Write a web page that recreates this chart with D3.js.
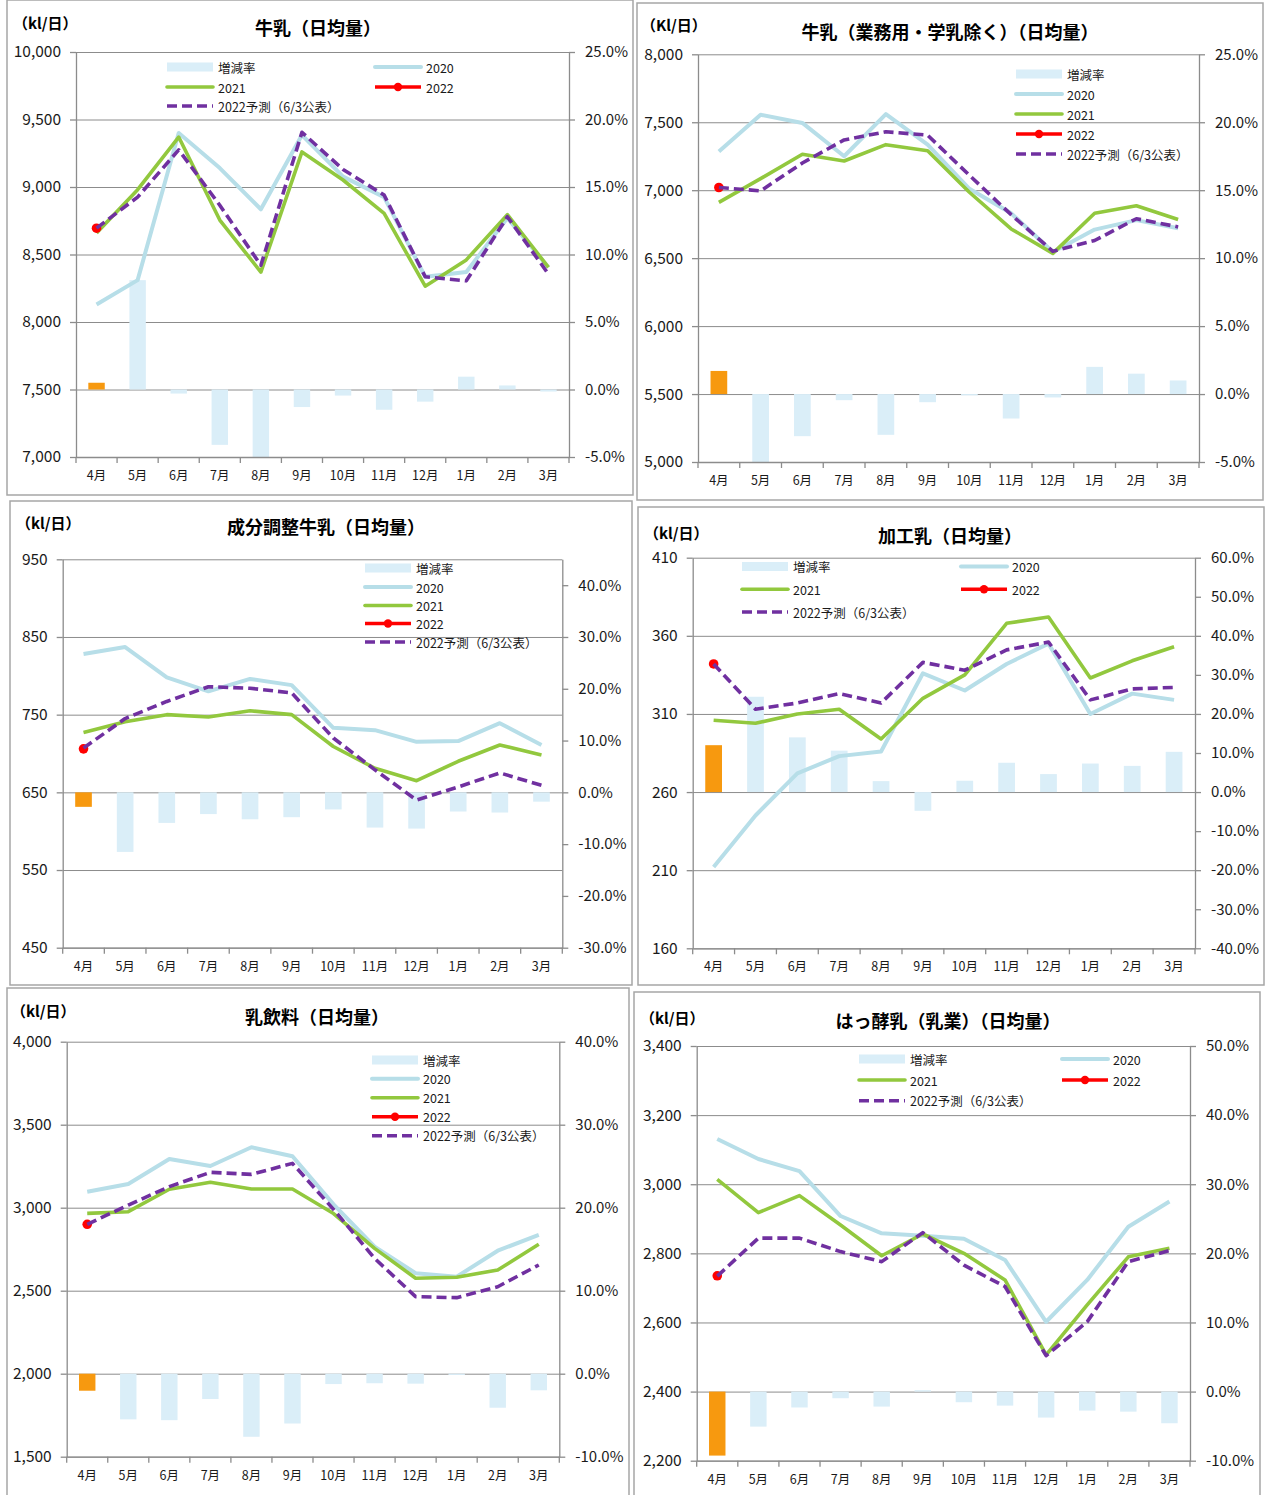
<!DOCTYPE html>
<html><head><meta charset="utf-8">
<script src="https://cdn.jsdelivr.net/npm/d3@7"></script>
<style>
body{margin:0;background:#fff;}
svg{display:block;font-family:"Noto Sans CJK JP","Noto Sans",sans-serif;}
</style></head><body>
<svg id="c" width="1274" height="1495"></svg>
<script>
// ---------- data ----------
const months = ["4月","5月","6月","7月","8月","9月","10月","11月","12月","1月","2月","3月"];
const legendNames = ["増減率","2020","2021","2022","2022予測（6/3公表）"];

// 牛乳（日均量）
const milkRate = [0.5, 8.1, -0.3, -4.1, -5.0, -1.3, -0.45, -1.5, -0.9, 0.95, 0.3, -0.15];
const milk2020 = [8130, 8310, 9400, 9140, 8835, 9385, 9077, 8925, 8335, 8370, 8770, 8405];
const milk2021 = [8660, 8980, 9370, 8755, 8370, 9260, 9052, 8805, 8265, 8460, 8795, 8405];
const milk2022 = [8695, null, null, null, null, null, null, null, null, null, null, null];
const milkPred = [8695, 8925, 9275, 8865, 8420, 9405, 9130, 8940, 8335, 8305, 8780, 8355];

// 牛乳（業務用・学乳除く）（日均量）
const bizRate = [1.7, -5.0, -3.1, -0.45, -3.0, -0.6, -0.1, -1.8, -0.25, 2.0, 1.5, 1.0];
const biz2020 = [7285, 7555, 7495, 7250, 7560, 7335, 7010, 6830, 6545, 6710, 6780, 6720];
const biz2021 = [6910, 7085, 7265, 7215, 7335, 7290, 6985, 6715, 6535, 6830, 6885, 6785];
const biz2022 = [7020, null, null, null, null, null, null, null, null, null, null, null];
const bizPred = [7020, 6995, 7200, 7370, 7430, 7405, 7110, 6820, 6550, 6630, 6790, 6730];

// 成分調整牛乳（日均量）
const adjRate = [-2.8, -11.5, -5.9, -4.2, -5.2, -4.8, -3.3, -6.8, -7.0, -3.7, -3.9, -1.8];
const adj2020 = [828, 837, 798, 780, 796, 788, 733, 730, 715, 716, 739, 711];
const adj2021 = [727, 741, 750, 747, 755, 750, 709, 681, 665, 690, 711, 698];
const adj2022 = [706, null, null, null, null, null, null, null, null, null, null, null];
const adjPred = [707, 745, 767, 786, 784, 778, 720, 679, 640, 657, 675, 659];

// 加工乳（日均量）
const procRate = [12.0, 24.4, 14.0, 10.6, 2.8, -4.8, 2.9, 7.5, 4.6, 7.3, 6.7, 10.3];
const proc2020 = [212, 245, 272, 283, 286, 336, 325, 342, 355, 310, 323, 319];
const proc2021 = [306, 304, 310, 313, 294, 320, 335, 368, 372, 333, 344, 353];
const proc2022 = [342, null, null, null, null, null, null, null, null, null, null, null];
const procPred = [342, 313, 317, 323, 317, 343, 338, 351, 356, 319, 326, 327];

// 乳飲料（日均量）
const drinkRate = [-2.05, -5.5, -5.6, -3.05, -7.6, -6.0, -1.25, -1.15, -1.2, -0.15, -4.1, -2.0];
const drink2020 = [3096, 3143, 3293, 3251, 3364, 3310, 3020, 2765, 2605, 2584, 2741, 2836];
const drink2021 = [2966, 2976, 3111, 3153, 3113, 3113, 2965, 2755, 2575, 2581, 2625, 2780];
const drink2022 = [2900, null, null, null, null, null, null, null, null, null, null, null];
const drinkPred = [2900, 3016, 3127, 3213, 3201, 3267, 2990, 2695, 2464, 2458, 2524, 2655];

// はっ酵乳（乳業）（日均量）
const ferRate = [-9.26, -5.07, -2.3, -0.96, -2.17, 0.2, -1.54, -2.03, -3.76, -2.75, -2.9, -4.58];
const fer2020 = [3131, 3073, 3038, 2908, 2858, 2851, 2842, 2781, 2602, 2723, 2877, 2950];
const fer2021 = [3014, 2918, 2967, 2882, 2793, 2856, 2800, 2723, 2506, 2651, 2790, 2815];
const fer2022 = [2735, null, null, null, null, null, null, null, null, null, null, null];
const ferPred = [2734, 2844, 2844, 2805, 2776, 2860, 2766, 2704, 2504, 2602, 2776, 2808];

// ---------- styles ----------
const C = {bar:"#DAEEF8", barNow:"#F7990F", s2020:"#B7DEE8", s2021:"#92C83E", s2022:"#FF0000", pred:"#7030A0",
           grid:"#8c8c8c", text:"#1a1a1a", border:"#a6a6a6"};

const svg = d3.select("#c");
svg.append("rect").attr("width",1274).attr("height",1495).attr("fill","#fff");

const panels = [
  {title:"牛乳（日均量）", unit:"（kl/日）", box:[7,0,633,495], plot:[76,569,52,457], titlePos:[318,27], unitPos:[13,22],
   left:[7000,10000], leftTicks:d3.range(7000,10001,500), right:[-5,25], rightTicks:d3.range(-5,25.1,5),
   rate:milkRate, a:milk2020, b:milk2021, c:milk2022, p:milkPred,
   legend:[[0,167,67],[2,167,87],[4,167,106],[1,375,67],[3,375,87]]},
  {title:"牛乳（業務用・学乳除く）（日均量）", unit:"（Kl/日）", box:[637,3,1263,500], plot:[698,1199,54.3,462], titlePos:[950,31], unitPos:[641,24],
   left:[5000,8000], leftTicks:d3.range(5000,8001,500), right:[-5,25], rightTicks:d3.range(-5,25.1,5),
   rate:bizRate, a:biz2020, b:biz2021, c:biz2022, p:bizPred,
   legend:[[0,1016,74],[1,1016,94],[2,1016,114],[3,1016,134],[4,1016,154]]},
  {title:"成分調整牛乳（日均量）", unit:"（kl/日）", box:[10,501,632,985], plot:[62.7,562.3,559.3,947.7], titlePos:[326,526], unitPos:[16,522],
   left:[450,950], leftTicks:d3.range(450,951,100), right:[-30,45], rightTicks:d3.range(-30,40.1,10),
   rate:adjRate, a:adj2020, b:adj2021, c:adj2022, p:adjPred,
   legend:[[0,365,568],[1,365,587],[2,365,605.5],[3,365,623.5],[4,365,642]]},
  {title:"加工乳（日均量）", unit:"（kl/日）", box:[638,507,1264,985], plot:[692.7,1195,557.7,948.3], titlePos:[950,535], unitPos:[644,532],
   left:[160,410], leftTicks:d3.range(160,411,50), right:[-40,60], rightTicks:d3.range(-40,60.1,10),
   rate:procRate, a:proc2020, b:proc2021, c:proc2022, p:procPred,
   legend:[[0,742,566.5],[2,742,589.3],[4,742,612],[1,961,566.5],[3,961,589.3]]},
  {title:"乳飲料（日均量）", unit:"（kl/日）", box:[7,988,629,1500], plot:[66.7,559.3,1041.7,1456.7], titlePos:[317,1016], unitPos:[11,1010],
   left:[1500,4000], leftTicks:d3.range(1500,4001,500), right:[-10,40], rightTicks:d3.range(-10,40.1,10),
   rate:drinkRate, a:drink2020, b:drink2021, c:drink2022, p:drinkPred,
   legend:[[0,372,1060],[1,372,1078.7],[2,372,1097.7],[3,372,1116.7],[4,372,1135.7]]},
  {title:"はっ酵乳（乳業）（日均量）", unit:"（kl/日）", box:[634,992,1260,1500], plot:[696.7,1190,1046,1460.7], titlePos:[948,1020], unitPos:[640,1017],
   left:[2200,3400], leftTicks:d3.range(2200,3401,200), right:[-10,50], rightTicks:d3.range(-10,50.1,10),
   rate:ferRate, a:fer2020, b:fer2021, c:fer2022, p:ferPred,
   legend:[[0,859,1059],[2,859,1080],[4,859,1100.7],[1,1062,1059],[3,1062,1080]]}
];

panels.forEach((P,pi)=>{
  const g = svg.append("g");
  const [x0,x1,y0,y1] = P.plot;
  g.append("rect").attr("x",P.box[0]).attr("y",P.box[1]).attr("width",P.box[2]-P.box[0]).attr("height",P.box[3]-P.box[1])
    .attr("fill","#fff").attr("stroke",C.border).attr("stroke-width",1.5);

  const x = d3.scaleBand().domain(months).range([x0,x1]);
  const yL = d3.scaleLinear().domain(P.left).range([y1,y0]);
  const yR = d3.scaleLinear().domain(P.right).range([y1,y0]);
  const cx = m => x(m) + x.bandwidth()/2;

  // gridlines
  g.append("g").attr("transform",`translate(${x0},0)`)
    .call(d3.axisLeft(yL).tickValues(P.leftTicks).tickSize(-(x1-x0)).tickFormat(""))
    .call(s=>{s.select(".domain").remove(); s.selectAll("line").attr("stroke",C.grid).attr("stroke-width",1);});

  // clip
  const cid = "clip"+pi;
  g.append("clipPath").attr("id",cid).append("rect").attr("x",x0).attr("y",y0).attr("width",x1-x0).attr("height",y1-y0);

  // bars
  const bw = x.bandwidth()*0.4;
  g.append("g").attr("clip-path",`url(#${cid})`).selectAll("rect").data(P.rate).join("rect")
    .attr("x",(d,i)=>x(months[i])+(x.bandwidth()-bw)/2)
    .attr("y",d=>yR(Math.max(0,d)))
    .attr("width",bw)
    .attr("height",d=>Math.abs(yR(d)-yR(0)))
    .attr("fill",(d,i)=>i===0?C.barNow:C.bar);

  // axes
  const la = g.append("g").attr("transform",`translate(${x0},0)`)
    .call(d3.axisLeft(yL).tickValues(P.leftTicks).tickSize(6).tickSizeOuter(0).tickPadding(9).tickFormat(d3.format(",")));
  const ra = g.append("g").attr("transform",`translate(${x1},0)`)
    .call(d3.axisRight(yR).tickValues(P.rightTicks).tickSize(6).tickSizeOuter(0).tickPadding(10).tickFormat(d=>d.toFixed(1)+"%"));
  const ba = g.append("g").attr("transform",`translate(0,${y1})`)
    .call(d3.axisBottom(x).tickSize(0).tickSizeOuter(0).tickPadding(14));
  [la,ra,ba].forEach(a=>{
    a.select(".domain").attr("stroke",C.grid).attr("stroke-width",1.3);
    a.selectAll(".tick line").attr("stroke",C.grid).attr("stroke-width",1.3);
    a.selectAll("text").attr("fill",C.text).style("font-family",'"Noto Sans CJK JP",sans-serif');
  });
  la.selectAll("text").style("font-size","15.5px");
  ra.selectAll("text").style("font-size","15px");
  ba.selectAll("text").style("font-size","12.5px");
  // category boundary ticks
  const bounds = months.map(m=>x(m)).concat([x1]);
  g.append("g").selectAll("line").data(bounds).join("line")
    .attr("x1",d=>d).attr("x2",d=>d).attr("y1",y1).attr("y2",y1+6)
    .attr("stroke",C.grid).attr("stroke-width",1.3);

  // lines
  const line = d3.line().defined(d=>d.v!=null).x(d=>cx(d.m)).y(d=>yL(d.v));
  const toPts = arr => arr.map((v,i)=>({m:months[i], v}));
  g.append("path").datum(toPts(P.a)).attr("d",line).attr("fill","none").attr("stroke",C.s2020).attr("stroke-width",4).attr("stroke-linejoin","round");
  g.append("path").datum(toPts(P.b)).attr("d",line).attr("fill","none").attr("stroke",C.s2021).attr("stroke-width",3.6).attr("stroke-linejoin","round");
  g.append("path").datum(toPts(P.c)).attr("d",line).attr("fill","none").attr("stroke",C.s2022).attr("stroke-width",3.6);
  g.append("g").selectAll("circle").data(toPts(P.c).filter(d=>d.v!=null)).join("circle")
    .attr("cx",d=>cx(d.m)).attr("cy",d=>yL(d.v)).attr("r",4.8).attr("fill",C.s2022);
  g.append("path").datum(toPts(P.p)).attr("d",line).attr("fill","none").attr("stroke",C.pred).attr("stroke-width",3.6)
    .attr("stroke-dasharray","10,5").attr("stroke-linejoin","round");

  // title & unit
  g.append("text").attr("x",P.titlePos[0]).attr("y",P.titlePos[1]).attr("text-anchor","middle").attr("dominant-baseline","central")
    .style("font-size","18px").style("font-weight","700").attr("fill","#000").text(P.title);
  g.append("text").attr("x",P.unitPos[0]).attr("y",P.unitPos[1]).attr("dominant-baseline","central")
    .style("font-size","15px").style("font-weight","700").attr("fill","#000").text(P.unit);

  // legend
  const lg = g.append("g");
  P.legend.forEach(([k,lx,ly])=>{
    const w = 46;
    if(k===0){
      lg.append("rect").attr("x",lx).attr("y",ly-4.5).attr("width",w).attr("height",9).attr("fill",C.bar);
    } else if(k===1){
      lg.append("line").attr("x1",lx).attr("x2",lx+w).attr("y1",ly).attr("y2",ly).attr("stroke",C.s2020).attr("stroke-width",4).attr("stroke-linecap","round");
    } else if(k===2){
      lg.append("line").attr("x1",lx).attr("x2",lx+w).attr("y1",ly).attr("y2",ly).attr("stroke",C.s2021).attr("stroke-width",3.6).attr("stroke-linecap","round");
    } else if(k===3){
      lg.append("line").attr("x1",lx).attr("x2",lx+w).attr("y1",ly).attr("y2",ly).attr("stroke",C.s2022).attr("stroke-width",3.6);
      lg.append("circle").attr("cx",lx+w/2).attr("cy",ly).attr("r",4.2).attr("fill",C.s2022);
    } else {
      lg.append("line").attr("x1",lx).attr("x2",lx+w).attr("y1",ly).attr("y2",ly).attr("stroke",C.pred).attr("stroke-width",3.6).attr("stroke-dasharray","10,5");
    }
    lg.append("text").attr("x",lx+w+5).attr("y",ly).attr("dominant-baseline","central")
      .style("font-size","12.5px").attr("fill",C.text).text(legendNames[k]);
  });
});
</script>
</body></html>
